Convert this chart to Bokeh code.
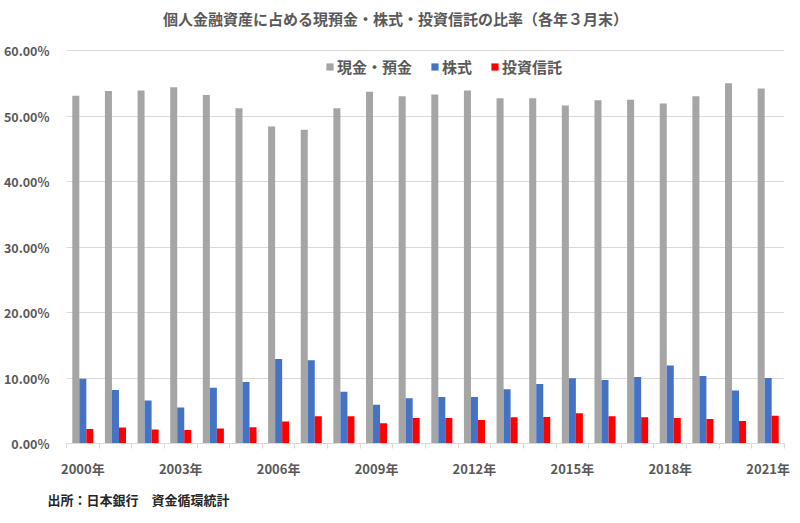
from bokeh.plotting import figure
from bokeh.models import ColumnDataSource, FixedTicker, NumeralTickFormatter, Legend, LegendItem, Title, Range1d, Label
from bokeh.transform import dodge
from bokeh.embed import file_html
from bokeh.resources import INLINE

years = ["2000年", "2001年", "2002年", "2003年", "2004年", "2005年", "2006年", "2007年",
         "2008年", "2009年", "2010年", "2011年", "2012年", "2013年", "2014年", "2015年",
         "2016年", "2017年", "2018年", "2019年", "2020年", "2021年"]
cash = [53.1, 53.8, 53.9, 54.4, 53.2, 51.2, 48.4, 47.9, 51.2, 53.7, 53.0,
        53.3, 53.9, 52.7, 52.7, 51.6, 52.4, 52.5, 51.9, 53.0, 55.0, 54.2]
stocks = [9.9, 8.15, 6.55, 5.5, 8.5, 9.4, 12.9, 12.7, 7.9, 5.9, 6.9,
          7.1, 7.1, 8.3, 9.1, 9.95, 9.7, 10.15, 11.9, 10.3, 8.1, 10.0]
funds = [2.2, 2.45, 2.15, 2.05, 2.3, 2.5, 3.35, 4.15, 4.15, 3.1, 3.9,
         3.9, 3.6, 4.0, 4.05, 4.6, 4.15, 4.0, 3.9, 3.75, 3.45, 4.25]
series_names = ["現金・預金", "株式", "投資信託"]
series_colors = ["#A5A5A5", "#4472C4", "#FF0000"]
y_ticks = [0.0, 0.1, 0.2, 0.3, 0.4, 0.5, 0.6]
label_step = 3
title_text = "個人金融資産に占める現預金・株式・投資信託の比率（各年３月末）"
source_text = "出所：日本銀行　資金循環統計"

FONT = "Noto Sans CJK JP"
TXT = "#595959"

# layout (pixels): the frame is extended upward so the title can live inside it
FRAME_H = 438
AXIS_H = 393          # pixel height of the 0..60% span
Y_TOP = y_ticks[-1] * FRAME_H / AXIS_H

idx = list(range(len(years)))
src = ColumnDataSource(dict(
    x=idx,
    cash=[v / 100 for v in cash],
    stocks=[v / 100 for v in stocks],
    funds=[v / 100 for v in funds],
))

p = figure(frame_width=718, frame_height=FRAME_H, output_backend="svg", toolbar_location=None,
           x_range=Range1d(-0.5, len(years) - 0.5), y_range=Range1d(0, Y_TOP),
           min_border_left=59, min_border_right=7, min_border_top=5, min_border_bottom=64)
p.outline_line_color = None
p.background_fill_color = "white"
p.border_fill_color = "white"

title = Label(x=329, y=FRAME_H - 13, x_units="screen", y_units="screen", text=title_text,
              text_align="center", text_baseline="middle", text_font=FONT,
              text_font_size="15px", text_font_style="bold", text_color=TXT)
p.add_layout(title)

bw = 0.215
r1 = p.vbar(x=dodge("x", -bw, range=p.x_range), top="cash", width=bw, source=src,
            fill_color=series_colors[0], line_color=None)
r2 = p.vbar(x=dodge("x", 0, range=p.x_range), top="stocks", width=bw, source=src,
            fill_color=series_colors[1], line_color=None)
r3 = p.vbar(x=dodge("x", bw, range=p.x_range), top="funds", width=bw, source=src,
            fill_color=series_colors[2], line_color=None)

legend = Legend(items=[LegendItem(label=series_names[0], renderers=[r1]),
                       LegendItem(label=series_names[1], renderers=[r2]),
                       LegendItem(label=series_names[2], renderers=[r3])],
                orientation="horizontal", location=(259, 366),
                glyph_width=9, glyph_height=9, label_standoff=3, spacing=18,
                padding=2, margin=0, border_line_color=None, background_fill_alpha=0,
                label_text_font=FONT, label_text_font_size="15px",
                label_text_font_style="bold", label_text_color=TXT, label_height=18)
p.add_layout(legend, "center")

# y axis
p.yaxis.ticker = FixedTicker(ticks=y_ticks)
p.yaxis.formatter = NumeralTickFormatter(format="0.00%")
p.yaxis.axis_line_color = None
p.yaxis.major_tick_line_color = None
p.yaxis.minor_tick_line_color = None
p.yaxis.major_label_text_font = FONT
p.yaxis.major_label_text_font_size = "12.5px"
p.yaxis.major_label_text_font_style = "bold"
p.yaxis.major_label_text_color = TXT
p.yaxis.major_label_standoff = 11

# x axis
p.xaxis.ticker = FixedTicker(ticks=idx[::label_step],
                             minor_ticks=[i - 0.5 for i in range(len(years) + 1)])
p.xaxis.major_label_overrides = {i: years[i] for i in idx[::label_step]}
p.xaxis.axis_line_color = "#D9D9D9"
p.xaxis.major_tick_line_color = None
p.xaxis.minor_tick_line_color = "#D9D9D9"
p.xaxis.minor_tick_out = 5
p.xaxis.minor_tick_in = 0
p.xaxis.major_label_text_font = FONT
p.xaxis.major_label_text_font_size = "13px"
p.xaxis.major_label_text_font_style = "bold"
p.xaxis.major_label_text_color = TXT
p.xaxis.major_label_standoff = 9

p.xgrid.grid_line_color = None
p.ygrid.ticker = FixedTicker(ticks=y_ticks)
p.ygrid.grid_line_color = "#D9D9D9"

footer = Title(text=source_text, align="left", offset=-19,
               text_font=FONT, text_font_size="13px", text_font_style="bold",
               text_color="#262626", standoff=14)
p.add_layout(footer, "below")

open("out.html", "w").write(file_html(p, INLINE))
